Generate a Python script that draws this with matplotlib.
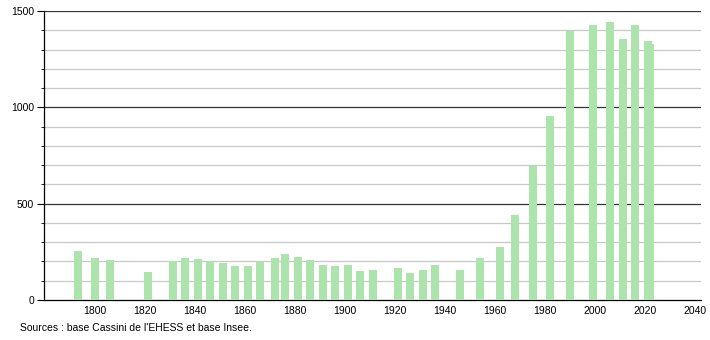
import matplotlib
matplotlib.use("Agg")
import matplotlib.pyplot as plt
from matplotlib.ticker import MultipleLocator

years = [1793, 1800, 1806, 1821, 1831, 1836, 1841, 1846, 1851, 1856, 1861, 1866,
         1872, 1876, 1881, 1886, 1891, 1896, 1901, 1906, 1911, 1921, 1926, 1931,
         1936, 1946, 1954, 1962, 1968, 1975, 1982, 1990, 1999, 2006, 2011, 2016,
         2021, 2022]
population = [256, 220, 208, 147, 202, 220, 214, 202, 192, 178, 178, 196,
              220, 239, 223, 209, 182, 178, 182, 150, 156, 168, 138, 156,
              182, 156, 216, 275, 439, 695, 955, 1398, 1427, 1444, 1354, 1427,
              1342, 1330]
x_ticks = list(range(1800, 2041, 20))
y_major = [0, 500, 1000, 1500]
source_text = "Sources : base Cassini de l'EHESS et base Insee."

plt.rcParams['font.family'] = ['Liberation Sans', 'DejaVu Sans']

fig = plt.figure(figsize=(7.1, 3.4), dpi=100)
ax = fig.add_axes([0.062, 0.1176, 0.925, 0.85])

ax.bar(years, population, width=3.2, color='#ade3ad', zorder=3)

ax.set_xlim(1779.6, 2042.3)
ax.set_ylim(0, 1500)
ax.set_xticks(x_ticks)
ax.set_xticklabels([str(t) for t in x_ticks])
ax.set_yticks(y_major)
ax.set_yticklabels([str(t) for t in y_major])
ax.yaxis.set_minor_locator(MultipleLocator(100))

for v in range(100, 1500, 100):
    if v % 500:
        ax.axhline(v, color='#c8c8c8', lw=0.9, zorder=1)
for v in [500, 1000, 1500]:
    ax.axhline(v, color='#333333', lw=0.9, zorder=1)

for s in ['top', 'right']:
    ax.spines[s].set_visible(False)
ax.spines['left'].set_color('black')
ax.spines['bottom'].set_color('black')
ax.spines['left'].set_linewidth(0.9)
ax.spines['bottom'].set_linewidth(0.9)

ax.tick_params(axis='x', length=0, labelsize=7.5, pad=4)
ax.tick_params(axis='y', which='major', length=5, labelsize=7.5, pad=2)
ax.tick_params(axis='y', which='minor', length=2.5)

fig.text(20 / 710, 1 - 328 / 340, source_text, fontsize=7.5, va='center', ha='left')

fig.savefig('out.png', dpi=100)
